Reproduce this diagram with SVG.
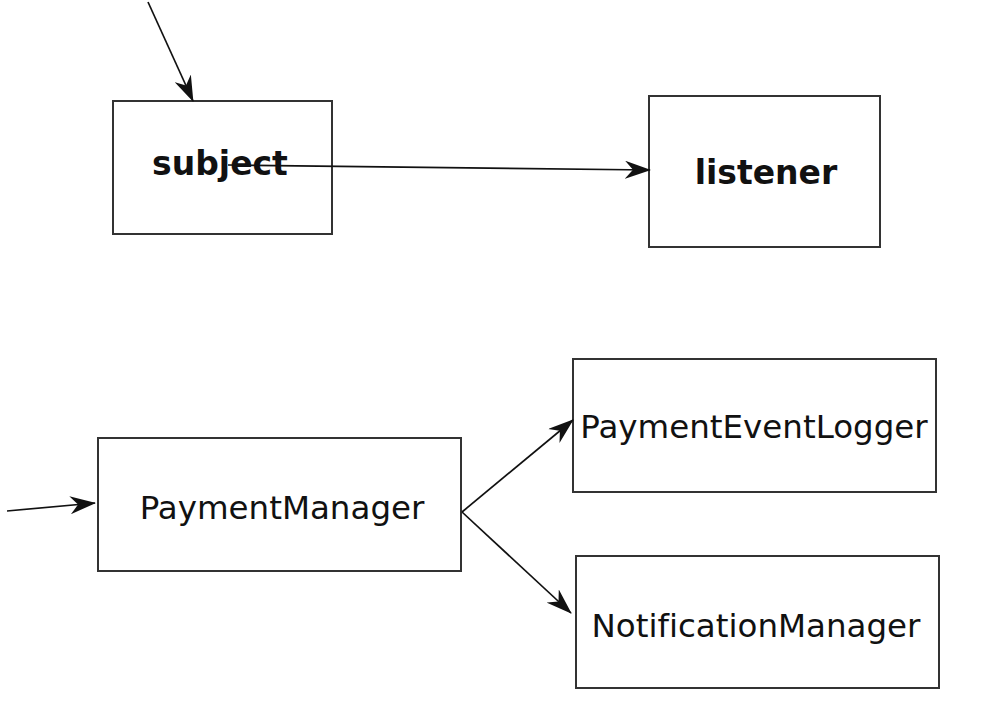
<svg xmlns="http://www.w3.org/2000/svg" width="991" height="724" viewBox="0 0 991 724">
<style>
.box{fill:#fff;stroke:#333;stroke-width:2}
.lbl{font-family:"DejaVu Sans",Verdana,sans-serif;font-size:32.5px;fill:#111;text-anchor:middle;font-variant-ligatures:none}
.b{font-weight:bold;font-size:33px}
.edge{stroke:#111;stroke-width:1.7;fill:none;marker-end:url(#ah)}
</style>
<defs>
<marker id="ah" viewBox="0 0 26 18" refX="25" refY="9" markerWidth="26" markerHeight="18" markerUnits="userSpaceOnUse" orient="auto">
<path d="M0,0 L26,9 L0,18 L8,9 Z" fill="#111"/>
</marker>
</defs>
<rect width="991" height="724" fill="#fff"/>
<g id="subject"><rect class="box" x="113" y="101" width="219" height="133"/><text class="lbl b" x="220" y="175">subject</text></g>
<g id="listener"><rect class="box" x="649" y="96" width="231" height="151"/><text class="lbl b" x="766" y="184">listener</text></g>
<g id="PaymentManager"><rect class="box" x="98" y="438" width="363" height="133"/><text class="lbl" x="282" y="519">PaymentManager</text></g>
<g id="PaymentEventLogger"><rect class="box" x="573" y="359" width="363" height="133"/><text class="lbl" x="754" y="438">PaymentEventLogger</text></g>
<g id="NotificationManager"><rect class="box" x="576" y="556" width="363" height="132"/><text class="lbl" x="756" y="637">NotificationManager</text></g>
<g id="connectors">
<line class="edge" x1="148" y1="2" x2="193" y2="101"/>
<line class="edge" x1="228" y1="165" x2="650" y2="170"/>
<line class="edge" x1="7" y1="511" x2="95" y2="503"/>
<line class="edge" x1="462" y1="512" x2="573" y2="420"/>
<line class="edge" x1="462" y1="512" x2="571" y2="613"/>
</g>
</svg>
